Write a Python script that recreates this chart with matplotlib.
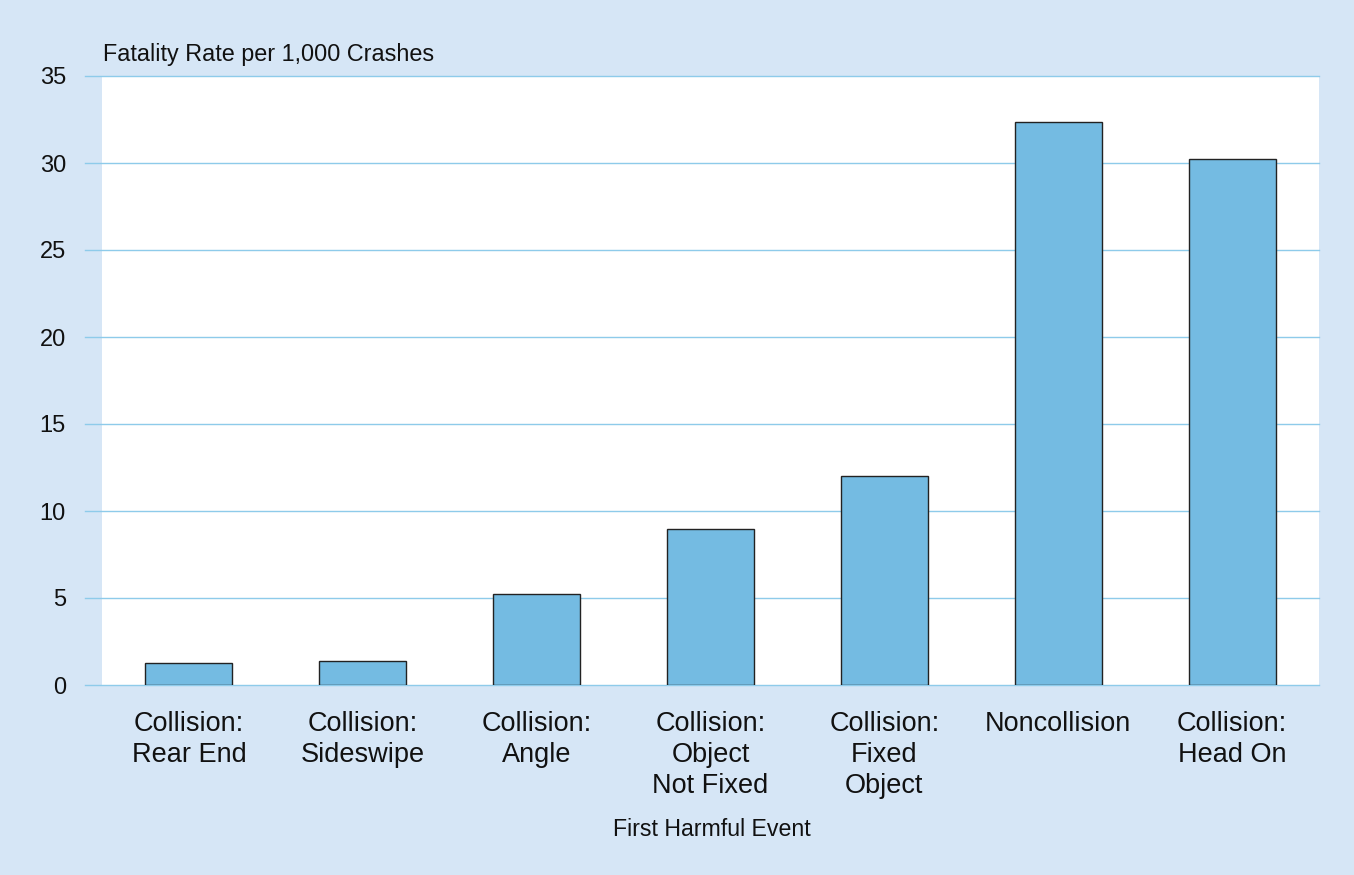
import matplotlib.pyplot as plt
from matplotlib.transforms import blended_transform_factory

categories = ["Collision:\nRear End", "Collision:\nSideswipe", "Collision:\nAngle",
              "Collision:\nObject\nNot Fixed", "Collision:\nFixed\nObject",
              "Noncollision", "Collision:\nHead On"]
rates = [1.25, 1.36, 5.24, 8.97, 12.01, 32.38, 30.24]
yticks = [0, 5, 10, 15, 20, 25, 30, 35]

BG = "#d6e6f6"
BAR = "#74bbe2"
GRID = "#8ecbea"

plt.rcParams["font.family"] = ["Liberation Sans", "DejaVu Sans"]

fig = plt.figure(figsize=(13.54, 8.75), dpi=100)
fig.patch.set_facecolor(BG)
ax = fig.add_axes([102/1354, 1-685/875, (1319-102)/1354, (685-76)/875])
ax.set_facecolor("white")

x = list(range(len(categories)))
ax.bar(x, rates, width=0.5, color=BAR, edgecolor="#222222", linewidth=1.0, zorder=3)

ax.set_xlim(-0.5, len(categories) - 0.5)
ax.set_ylim(0, 35)
ax.set_yticks(yticks)
ax.set_xticks(x)
ax.set_xticklabels(categories, fontsize=19.5, linespacing=1.25, va="top")
ax.tick_params(axis="y", length=0, pad=26, labelsize=17, labelcolor="#111111")
ax.tick_params(axis="x", length=0, pad=19, labelcolor="#111111")

# gridlines extend a bit to the left of the white plot area
trans = blended_transform_factory(ax.transAxes, ax.transData)
ext = (102-85)/(1319-102)
for t in yticks:
    ax.plot([-ext, 1], [t, t], color=GRID, linewidth=1.0, transform=trans,
            clip_on=False, zorder=1)

for s in ax.spines.values():
    s.set_visible(False)

fig.text(103/1354, 1-61/875, "Fatality Rate per 1,000 Crashes", fontsize=16.8,
         color="#111111", va="baseline", ha="left")
fig.text(712/1354, 1-836/875, "First Harmful Event", fontsize=16.7,
         color="#111111", va="baseline", ha="center")

fig.savefig("out.png", dpi=100, facecolor=BG)
